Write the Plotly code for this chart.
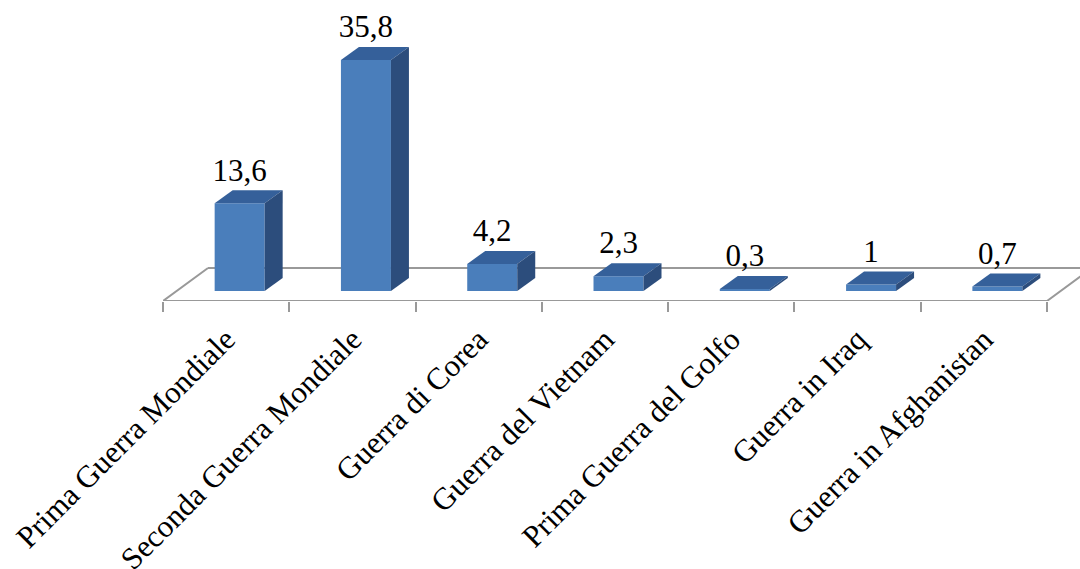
import plotly.graph_objects as go

categories = ["Prima Guerra Mondiale", "Seconda Guerra Mondiale", "Guerra di Corea",
              "Guerra del Vietnam", "Prima Guerra del Golfo", "Guerra in Iraq", "Guerra in Afghanistan"]
values = [13.6, 35.8, 4.2, 2.3, 0.3, 1, 0.7]
value_labels = ["13,6", "35,8", "4,2", "2,3", "0,3", "1", "0,7"]

W, H = 1080, 569
L, B = 163, 268
PX_X = (1047 - 163) / 7
PX_Y = 6.45
y_bottom = -10 / PX_Y
y_top = 291 / PX_Y
x_right = (W - L) / PX_X

bar_w = 50 / PX_X
bar_shift = 0.607
dx, dy = 18 / PX_X, 13 / PX_Y
floor_dx, floor_dy = 45 / PX_X, 33 / PX_Y
label_gap = 2 / PX_Y

FRONT, TOP, SIDE, GREY = "#4a7ebb", "#35609a", "#2c4d7c", "#999999"
FONT = "Liberation Serif"

centers = [i + bar_shift for i in range(len(values))]
fig = go.Figure()
fig.add_trace(go.Bar(x=centers, y=values, width=bar_w, marker=dict(color=FRONT, line=dict(width=0)),
                     hoverinfo="skip"))

for c, v in zip(centers, values):
    l, r = c - bar_w / 2, c + bar_w / 2
    fig.add_trace(go.Scatter(x=[l, r, r + dx, l + dx, l], y=[v, v, v + dy, v + dy, v], mode="lines",
                             fill="toself", fillcolor=TOP, line=dict(width=0), hoverinfo="skip"))
    fig.add_trace(go.Scatter(x=[r, r + dx, r + dx, r, r], y=[0, dy, v + dy, v, 0], mode="lines",
                             fill="toself", fillcolor=SIDE, line=dict(width=0), hoverinfo="skip"))

# front, left and right floor edges
fig.add_trace(go.Scatter(x=[floor_dx, 0, 7, 7 + floor_dx],
                         y=[y_bottom + floor_dy, y_bottom, y_bottom, y_bottom + floor_dy],
                         mode="lines", line=dict(color=GREY, width=2), cliponaxis=False, hoverinfo="skip"))

fig.add_trace(go.Scatter(x=centers, y=[v + dy + label_gap for v in values], mode="text", text=value_labels,
                         textposition="top center", cliponaxis=False,
                         textfont=dict(family=FONT, size=31, color="#000000"), hoverinfo="skip"))

fig.update_layout(
    width=W, height=H, showlegend=False, plot_bgcolor="white", paper_bgcolor="white",
    margin=dict(l=L, r=0, t=0, b=B, autoexpand=False),
    shapes=[dict(type="line", layer="below", xref="x", yref="y",
                 x0=floor_dx, x1=x_right, y0=y_bottom + floor_dy, y1=y_bottom + floor_dy,
                 line=dict(color=GREY, width=2))],
    xaxis=dict(range=[0, x_right], showgrid=False, zeroline=False, showline=False,
               tickmode="array", tickvals=[i + 0.5 for i in range(7)], ticktext=categories,
               ticks="", tickangle=-45, ticklabelstandoff=13,
               tickfont=dict(family=FONT, size=31, color="#000000"),
               minor=dict(tickmode="array", tickvals=list(range(8)), ticks="outside", ticklen=10,
                          tickwidth=1.5, tickcolor=GREY, showgrid=False)),
    yaxis=dict(range=[y_bottom, y_top], visible=False),
)
fig.write_html("out.html", config={"displayModeBar": False},
               post_script="document.body.style.margin='0';document.body.style.overflow='hidden';")
